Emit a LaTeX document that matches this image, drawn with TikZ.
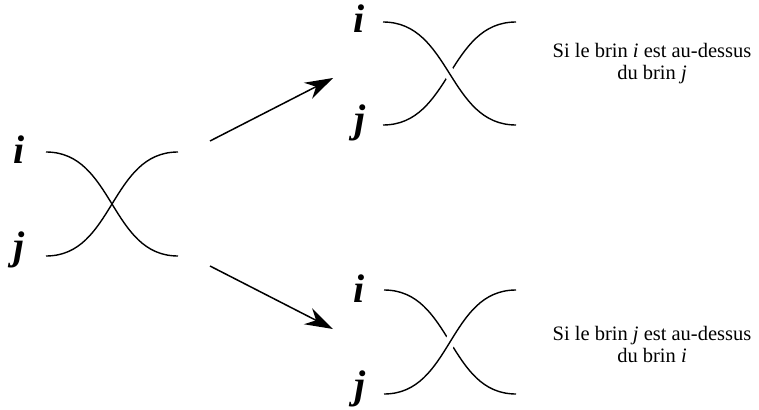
\documentclass[tikz,border=0pt]{standalone}
\usepackage{fontspec}
\setmainfont{Liberation Serif}
\usetikzlibrary{arrows.meta}
\begin{document}
\begin{tikzpicture}[x=1pt,y=-1pt,
  strand/.style={line width=1.4pt},
  overstrand/.style={strand, preaction={draw, white, line width=11pt}},
  lbl/.style={font=\fontsize{40}{40}\selectfont\bfseries\itshape, anchor=base, inner sep=0pt},
  note/.style={font=\fontsize{20.5}{22}\selectfont, align=center, inner sep=0pt},
  arr/.style={line width=1.5pt, -{Stealth[length=28pt,width=18pt,inset=9pt]}}]
\useasboundingbox (0,0) rectangle (759,409);

% left crossing (no gap)
\coordinate (Lti) at (46,152);  \coordinate (Lbi) at (178,256);
\coordinate (Lbj) at (46,256);  \coordinate (Ltj) at (178,152);
\node[lbl] (Li) at (19,163) {i};
\node[lbl] (Lj) at (19,259) {j};
\draw[strand] (Lti) .. controls +(68,0) and +(-68,0) .. (Lbi);
\draw[strand] (Lbj) .. controls +(68,0) and +(-68,0) .. (Ltj);

% top crossing: i over j
\coordinate (Tti) at (383,22);  \coordinate (Tbi) at (516,125);
\coordinate (Tbj) at (383,125); \coordinate (Ttj) at (516,22);
\node[lbl] (Ti) at (359,33) {i};
\node[lbl] (Tj) at (360,132) {j};
\draw[strand] (Tbj) .. controls +(68,0) and +(-68,0) .. (Ttj);
\draw[overstrand] (Tti) .. controls +(68,0) and +(-68,0) .. (Tbi);

% bottom crossing: j over i
\coordinate (Bti) at (384,290); \coordinate (Bbi) at (516,394);
\coordinate (Bbj) at (384,394); \coordinate (Btj) at (516,290);
\node[lbl] (Bi) at (359,302) {i};
\node[lbl] (Bj) at (360,398) {j};
\draw[strand] (Bti) .. controls +(68,0) and +(-68,0) .. (Bbi);
\draw[overstrand] (Bbj) .. controls +(68,0) and +(-68,0) .. (Btj);

% notes
\node[note] (Tn) at (652,64) {Si le brin \textit{i} est au-dessus\\du brin \textit{j}};
\node[note] (Bn) at (652,344) {Si le brin \textit{j} est au-dessus\\du brin \textit{i}};

% arrows
\coordinate (A1s) at (210,141); \coordinate (A1e) at (333,78);
\coordinate (A2s) at (210,266); \coordinate (A2e) at (333,329);
\draw[arr] (A1s) -- (A1e);
\draw[arr] (A2s) -- (A2e);
\end{tikzpicture}
\end{document}
